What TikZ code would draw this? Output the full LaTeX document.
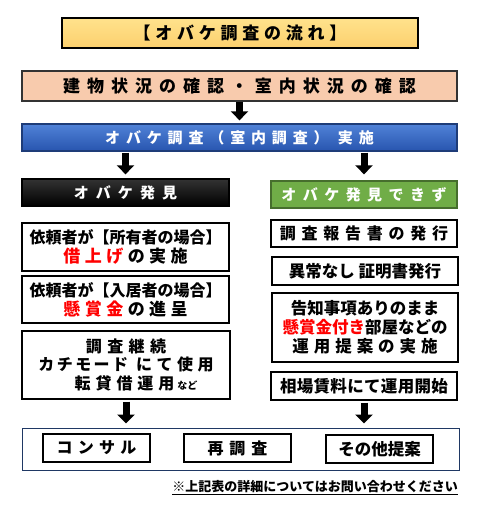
\documentclass[tikz,border=0pt]{standalone}
\usepackage{fontspec}
\setmainfont{Noto Sans CJK JP}
\usetikzlibrary{arrows.meta}
\definecolor{titletop}{RGB}{255,226,140}
\definecolor{titlebot}{RGB}{252,208,110}
\definecolor{peach}{RGB}{248,203,173}
\definecolor{bluetop}{RGB}{80,130,215}
\definecolor{bluebot}{RGB}{40,85,175}
\definecolor{blueline}{RGB}{30,60,120}
\definecolor{okgreen}{RGB}{112,173,71}
\definecolor{greenline}{RGB}{70,110,45}
\definecolor{navy}{RGB}{31,56,100}
\definecolor{hotred}{RGB}{255,0,0}
\newcommand{\spaced}[2]{{\addfontfeature{LetterSpace=#1}#2}}
\newcommand{\fs}[1]{\fontsize{#1}{#1}\selectfont}

\begin{document}
\begin{tikzpicture}[x=1pt,y=-1pt,
    box/.style={draw=black, line width=1.3pt, inner sep=0pt, align=center, font=\bfseries},
    bigarrow/.style={line width=7pt, -{Triangle[width=17pt,length=9pt]}}]
  \useasboundingbox (0,0) rectangle (480,511);
  % title
  \node[box, line width=1.5pt, top color=titletop, bottom color=titlebot,
        minimum width=356pt, minimum height=30pt] (title) at (240,33)
        {\fs{17}\spaced{28}{【オバケ調査の流れ】}};
  % first check and survey
  \node[box, draw=black!80, fill=peach, minimum width=435pt, minimum height=30pt] (check) at (239.5,86)
        {\fs{17}\spaced{41}{建物状況の確認・室内状況の確認}};
  \node[box, draw=blueline, top color=bluetop, bottom color=bluebot, text=white,
        minimum width=435pt, minimum height=27pt] (survey) at (239.5,137.5)
        {\fs{15}\spaced{39}{オバケ調査（室内調査） 実施}};
  % result heads
  \node[box, draw=black, top color=black!80, bottom color=black, text=white,
        minimum width=207pt, minimum height=27pt] (found) at (125.5,192.5)
        {\fs{15}\spaced{47}{オバケ発見}};
  \node[box, draw=greenline, fill=okgreen, text=white,
        minimum width=186pt, minimum height=27pt] (notfound) at (364,194.5)
        {\fs{15}\spaced{43}{オバケ発見できず}};
  % left column
  \node[box, minimum width=207pt, minimum height=48pt] (owner) at (125.5,247)
        {\fs{16}依頼者が【所有者の場合】\\[2pt]
         \fs{17}\spaced{26}{\textcolor{hotred}{借上げ}}\hspace{4.5pt}\spaced{26}{の実施}};
  \node[box, minimum width=207pt, minimum height=47pt] (tenant) at (125.5,299.5)
        {\fs{16}依頼者が【入居者の場合】\\[2pt]
         \fs{17}\spaced{26}{\textcolor{hotred}{懸賞金}}\hspace{4.5pt}\spaced{26}{の進呈}};
  \node[box, minimum width=208pt, minimum height=68pt] (cont) at (126,365)
        {\fs{16}\spaced{34}{調査継続}\\[2pt]
         \fs{16}\spaced{15}{カチモード}\hspace{8pt}\spaced{28}{にて使用}\\[2pt]
         \fs{16}\hspace*{20pt}\spaced{31}{転貸借運用}\hspace{3pt}{\fs{10}など}};
  % right column
  \node[box, minimum width=186pt, minimum height=27pt] (report) at (364,233.5)
        {\fs{16}\spaced{36}{調査報告書の発行}};
  \node[box, minimum width=186pt, minimum height=28pt] (cert) at (365,271)
        {\fs{16.5}異常なし 証明書発行};
  \node[box, minimum width=186pt, minimum height=69pt] (disclose) at (365,327.5)
        {\fs{16.5}告知事項ありのまま\\[2pt]
         \fs{16.5}\textcolor{hotred}{懸賞金付き}部屋などの\\[2pt]
         \fs{16.5}\spaced{30}{運用提案の実施}};
  \node[box, minimum width=186pt, minimum height=28pt] (market) at (364,386)
        {\fs{16.5}\spaced{2}{相場賃料にて運用開始}};
  % proposals
  \node[draw=navy, line width=1pt, minimum width=437pt, minimum height=42pt] (options) at (240.5,449) {};
  \node[box, minimum width=107pt, minimum height=28pt] (consult) at (96.5,448)
        {\fs{16}\spaced{33}{コンサル}};
  \node[box, minimum width=107pt, minimum height=28pt] (resurvey) at (237.5,448)
        {\fs{16}\spaced{37}{再調査}};
  \node[box, minimum width=107pt, minimum height=28pt] (other) at (379.5,449)
        {\fs{16.5}その他提案};
  % note
  \node[anchor=east, inner sep=0pt, font=\bfseries\fs{13}] (note) at (458,488)
        {\underline{※上記表の詳細についてはお問い合わせください}};
  % arrows
  \draw[bigarrow, shorten >=3pt] (check) -- (survey);
  \draw[bigarrow, shorten <=1pt, shorten >=4pt] (survey.south -| found.north) -- (found.north);
  \draw[bigarrow, shorten <=1pt, shorten >=6pt] (survey.south -| notfound.north) -- (notfound.north);
  \draw[bigarrow, shorten <=2pt, shorten >=4pt] (cont.south) -- (options.north -| cont.south);
  \draw[bigarrow, shorten <=2pt, shorten >=4pt] (market.south) -- (options.north -| market.south);
\end{tikzpicture}
\end{document}
